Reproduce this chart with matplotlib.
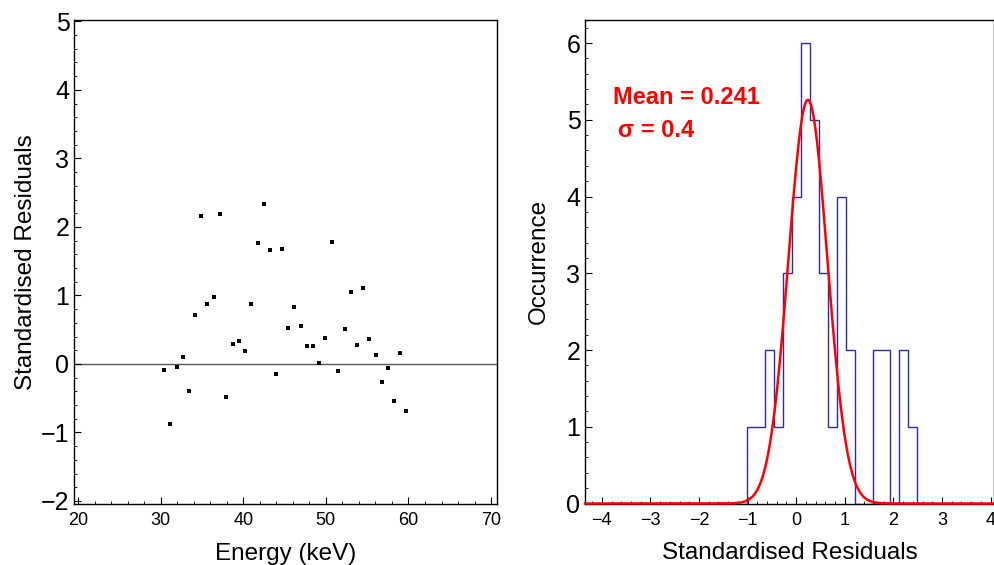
import matplotlib
matplotlib.use('Agg')
import matplotlib.pyplot as plt
import numpy as np
from matplotlib.ticker import MultipleLocator

plt.rcParams['font.family'] = ['Liberation Sans', 'DejaVu Sans']

# residuals vs energy (left panel)
energy = [30.45, 31.17, 31.95, 32.68, 33.44, 34.16, 34.93, 35.65, 36.43, 37.15,
          37.92, 38.77, 39.49, 40.25, 40.98, 41.76, 42.48, 43.24, 43.97, 44.73,
          45.46, 46.19, 46.96, 47.72, 48.45, 49.21, 49.94, 50.71, 51.51, 52.29,
          53.05, 53.81, 54.54, 55.27, 56.04, 56.77, 57.53, 58.29, 59.02, 59.75]
residuals = [-0.085, -0.87, -0.047, 0.095, -0.39, 0.71, 2.155, 0.88, 0.97, 2.19,
             -0.48, 0.29, 0.33, 0.19, 0.88, 1.77, 2.33, 1.665, -0.15, 1.68,
             0.53, 0.83, 0.55, 0.255, 0.265, 0.007, 0.38, 1.78, -0.10, 0.51,
             1.05, 0.27, 1.11, 0.37, 0.13, -0.27, -0.06, -0.54, 0.16, -0.69]

# histogram of residuals (right panel)
bin_edges = np.linspace(-1.02, 2.495, 20)
counts = [1, 1, 2, 1, 3, 4, 6, 5, 3, 1, 4, 2, 0, 0, 2, 2, 0, 2, 1]

# gaussian fit
fit_mean = 0.241
fit_sigma = 0.4
fit_amp = 5.26

W, H = 995, 565
fig = plt.figure(figsize=(W / 100, H / 100), dpi=100)

ax1 = fig.add_axes([74.3 / W, (H - 503.7) / H, 423 / W, 483.7 / H])
ax2 = fig.add_axes([585.3 / W, (H - 503.5) / H, 409.2 / W, 483.5 / H])

# left panel
ax1.axhline(0, color='#555555', lw=1.0, zorder=1)
ax1.plot(energy, residuals, 's', color='black', ms=2.6, mew=0, zorder=3)
ax1.set_xlim(19.55, 70.75)
ax1.set_ylim(-2.04, 5.02)
ax1.xaxis.set_major_locator(MultipleLocator(10))
ax1.xaxis.set_minor_locator(MultipleLocator(2))
ax1.yaxis.set_major_locator(MultipleLocator(1))
ax1.yaxis.set_minor_locator(MultipleLocator(0.2))
ax1.set_xlabel('Energy (keV)', fontsize=17.5, labelpad=10)
ax1.set_ylabel('Standardised Residuals', fontsize=17.5, labelpad=3)

# right panel
ax2.stairs(counts, bin_edges, color='#2b2ba8', lw=1.0, zorder=2)
xs = np.linspace(-4.34, 4.1, 800)
ax2.plot(xs, fit_amp * np.exp(-0.5 * ((xs - fit_mean) / fit_sigma) ** 2),
         color='red', lw=1.8, zorder=3, clip_on=False)
ax2.set_xlim(-4.34, 4.08)
ax2.set_ylim(0, 6.3)
ax2.xaxis.set_major_locator(MultipleLocator(1))
ax2.xaxis.set_minor_locator(MultipleLocator(0.2))
ax2.yaxis.set_major_locator(MultipleLocator(1))
ax2.yaxis.set_minor_locator(MultipleLocator(0.2))
ax2.set_xlabel('Standardised Residuals', fontsize=17.5, labelpad=9.5)
ax2.set_ylabel('Occurrence', fontsize=17.5, labelpad=12)
ax2.text(-3.78, 5.21, 'Mean = %.3f' % fit_mean, color='red', fontsize=17,
         fontweight='bold')
ax2.text(-3.66, 4.78, '\u03c3 = %.1f' % fit_sigma, color='red', fontsize=17,
         fontweight='bold')

for ax in (ax1, ax2):
    for s in ax.spines.values():
        s.set_linewidth(1.0)
    ax.tick_params(which='both', direction='in', top=False, right=False)
    ax.tick_params(which='major', length=5, width=0.8)
    ax.tick_params(which='minor', length=2.5, width=0.6)
    ax.tick_params(axis='x', labelsize=13, pad=6)
    ax.tick_params(axis='y', labelsize=18, pad=3.5)

fig.savefig('out.png', dpi=100)
